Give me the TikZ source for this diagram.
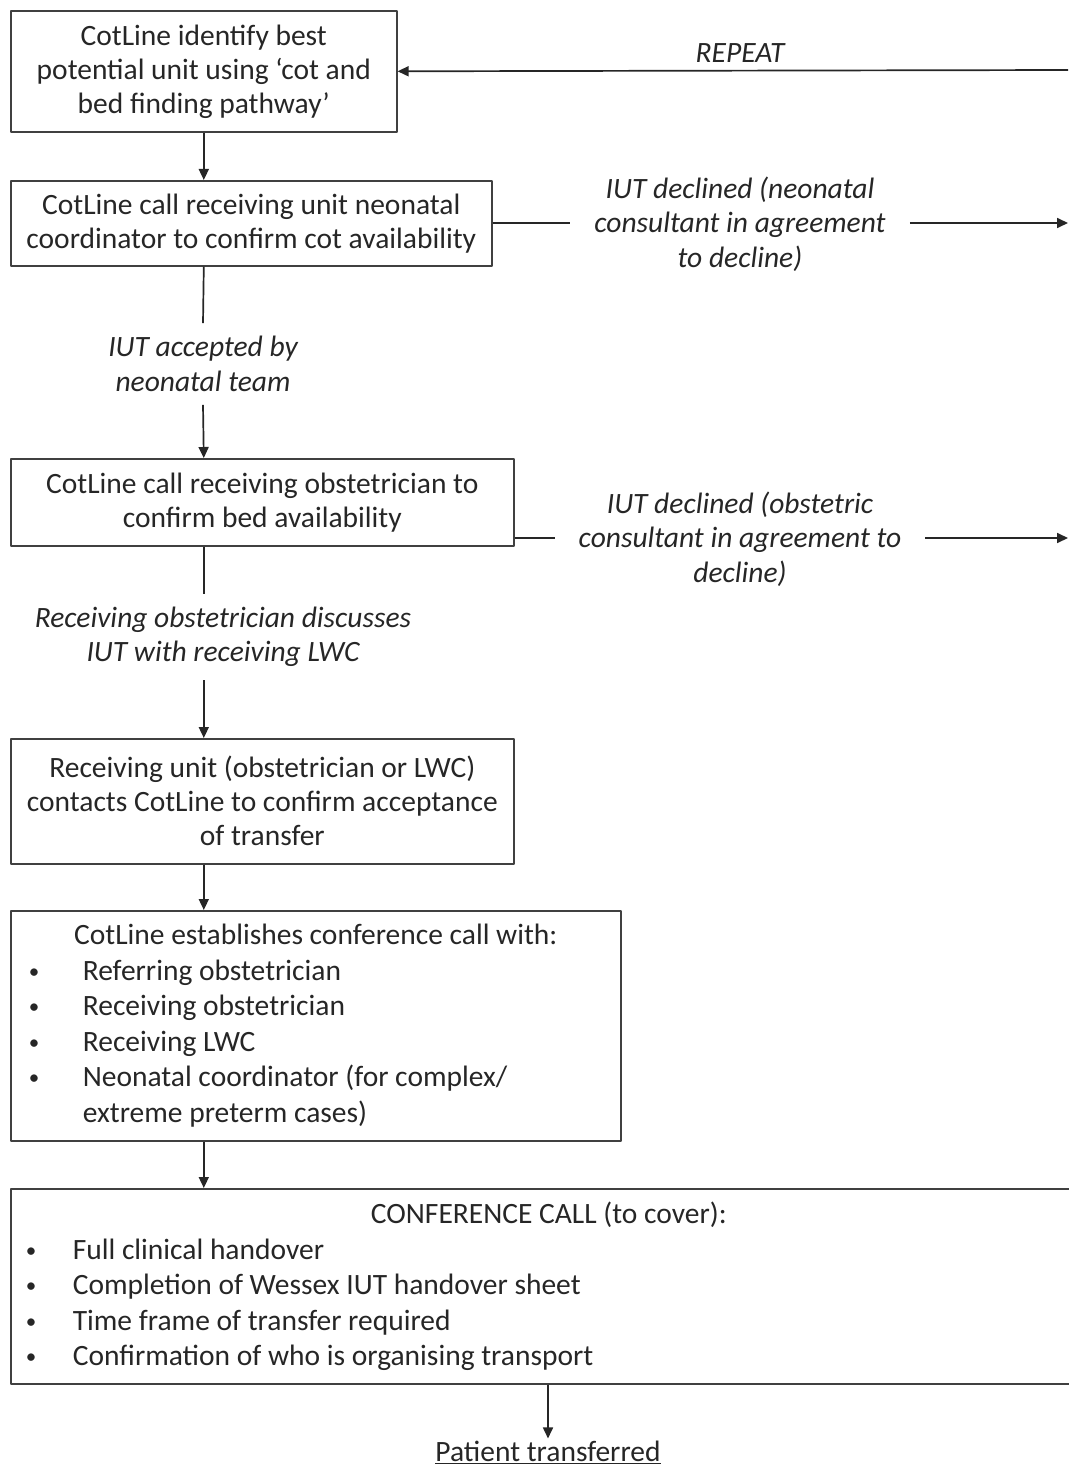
\documentclass[tikz,border=0pt]{standalone}
\usepackage{fontspec}
\setmainfont{Carlito}
\usetikzlibrary{arrows.meta,positioning}
\tikzset{
  box/.style={draw=black!75,line width=1.6pt,rectangle,inner sep=0pt,anchor=north west},
  lbl/.style={font=\fontsize{29.5}{34.5}\selectfont\itshape,align=center,inner xsep=24pt,inner ysep=13pt},
  link/.style={draw=black!85,line width=1.7pt}
}
\newcommand{\bul}[2]{\makebox[#1][l]{\hspace{#2}\raisebox{2pt}{\fontsize{21}{21}\selectfont\textbullet}}}
\begin{document}
\begin{tikzpicture}[x=1pt,y=-1pt,>={Triangle[length=11pt,width=10pt]},line join=round,
  font=\fontsize{29.5}{34}\selectfont,text=black!85]
  \useasboundingbox (0,0) rectangle (1068,1466);
  % boxes
  \node[box,minimum width=386pt,minimum height=121pt,align=center] (find) at (10,10)
    {CotLine identify best\\potential unit using `cot and\\bed finding pathway'};
  \node[box,minimum width=481pt,minimum height=85pt,align=center] (cot) at (10,180)
    {CotLine call receiving unit neonatal\\coordinator to confirm cot availability};
  \node[box,minimum width=503pt,minimum height=87pt,align=center] (bed) at (10,458)
    {CotLine call receiving obstetrician to\\confirm bed availability};
  \node[box,minimum width=503pt,minimum height=125pt,align=center] (accept) at (10,738)
    {Receiving unit (obstetrician or LWC)\\contacts CotLine to confirm acceptance\\of transfer};
  \node[box,minimum width=610pt,minimum height=230pt,align=left,
    font=\fontsize{29.5}{35.5}\selectfont] (conf) at (10,910)
    {\makebox[610pt]{CotLine establishes conference call with:}\\
     \bul{72pt}{18pt}Referring obstetrician\\
     \bul{72pt}{18pt}Receiving obstetrician\\
     \bul{72pt}{18pt}Receiving LWC\\
     \bul{72pt}{18pt}Neonatal coordinator (for complex/\\
     \hspace*{72pt}extreme preterm cases)};
  \node[box,minimum width=1076pt,minimum height=195pt,align=left,
    font=\fontsize{29.5}{35.5}\selectfont] (cover) at (10,1188)
    {\makebox[1076pt]{CONFERENCE CALL (to cover):}\\
     \bul{62pt}{15pt}Full clinical handover\\
     \bul{62pt}{15pt}Completion of Wessex IUT handover sheet\\
     \bul{62pt}{15pt}Time frame of transfer required\\
     \bul{62pt}{15pt}Confirmation of who is organising transport};
  % labels
  \node[lbl,inner sep=2pt] (repeat) at (740,53) {REPEAT};
  \node[lbl] (neodecl) at (740,224) {IUT declined (neonatal\\consultant in agreement\\to decline)};
  \node[lbl] (obsdecl) at (740,539) {IUT declined (obstetric\\consultant in agreement to\\decline)};
  \node[lbl,inner xsep=2pt] (neoacc) at (203,364) {IUT accepted by\\neonatal team};
  \node[lbl,inner xsep=2pt] (discuss) at (223,637) {Receiving obstetrician discusses\\IUT with receiving LWC};
  \node[inner sep=2pt] (done) at (548,1452) {\underline{Patient transferred}};
  \coordinate (edgeA) at (1068,70);
  \coordinate (edgeB) at (1068,223);
  \coordinate (edgeC) at (1068,538);
  % connectors
  \draw[link,->] (edgeA) -- (find.east);
  \draw[link,->] (find.south) -- (cot.north -| find.south);
  \draw[link] (cot.east) -- (neodecl.west |- cot.east);
  \draw[link,->] (neodecl.east |- edgeB) -- (edgeB);
  \draw[link] (cot.south -| find.south) -- (neoacc.north);
  \draw[link,->] (neoacc.south) -- (bed.north -| find.south);
  \draw[link] (bed.east |- edgeC) -- (obsdecl.west |- edgeC);
  \draw[link,->] (obsdecl.east |- edgeC) -- (edgeC);
  \draw[link] (bed.south -| find.south) -- (discuss.north -| find.south);
  \draw[link,->] (discuss.south -| find.south) -- (accept.north -| find.south);
  \draw[link,->] (accept.south -| find.south) -- (conf.north -| find.south);
  \draw[link,->] (conf.south -| find.south) -- (cover.north -| find.south);
  \draw[link,->] (cover.south -| done.north) -- (done.north);
\end{tikzpicture}
\end{document}
